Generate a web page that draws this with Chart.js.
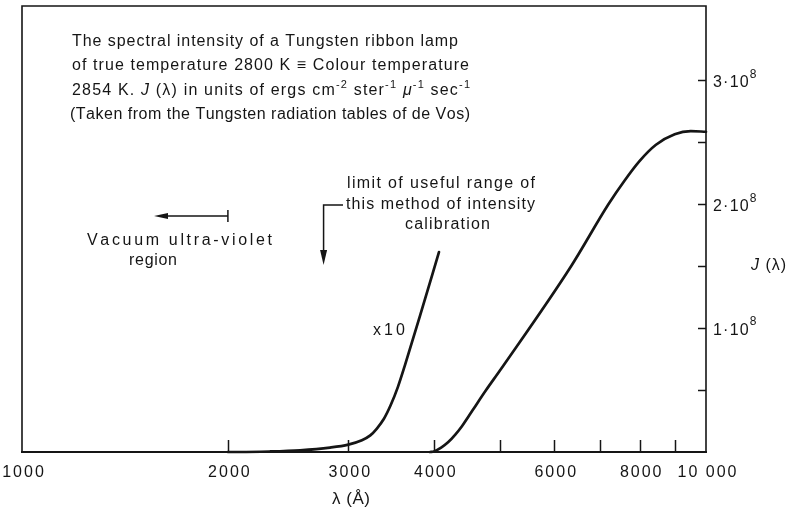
<!DOCTYPE html>
<html>
<head>
<meta charset="utf-8">
<script src="https://cdn.jsdelivr.net/npm/chart.js@4/dist/chart.umd.min.js"></script>
<style>
  html, body { margin: 0; padding: 0; background: #fff; }
  #wrap { width: 791px; height: 519px; position: relative; }
</style>
</head>
<body>
<div id="wrap"><canvas id="c" width="791" height="519"></canvas></div>
<script>
// Spectral intensity J(λ) of a tungsten ribbon lamp, 2800 K true temperature.
// Wavelengths in Å, intensities in ergs cm^-2 ster^-1 µ^-1 sec^-1.

// Short-wavelength branch (plotted magnified ×10)
const uvWavelengths = [2000, 2080, 2300, 2550, 2820, 3000, 3140, 3230, 3300, 3380,
                       3460, 3545, 3630, 3820, 4070];
const uvIntensity   = [0, 0, 4e4, 1.4e5, 3.6e5, 6.0e5, 9.5e5, 1.34e6, 1.875e6, 2.66e6,
                       3.79e6, 5.26e6, 7.01e6, 1.103e7, 1.613e7];
const UV_MAGNIFICATION = 10;

// Main branch
const visWavelengths = [3950, 4000, 4100, 4200, 4300, 4400, 4500, 4600, 4770, 5000,
                        6350, 7200, 7600, 8000, 8450, 9000, 9500, 10000];
const visIntensity   = [0, 4e5, 3.5e6, 8e6, 1.4e7, 2.1e7, 2.9e7, 3.7e7, 5.0e7, 6.6e7,
                        1.5e8, 2.0e8, 2.19e8, 2.35e8, 2.48e8, 2.565e8, 2.59e8, 2.585e8];

// Axes
const xTickValues = [1000, 2000, 3000, 4000, 5000, 6000, 7000, 8000, 9000, 10000];
const xTickLabels = { 1000: '1000', 2000: '2000', 3000: '3000', 4000: '4000',
                      6000: '6000', 8000: '8000', 10000: '10 000' };
const yTickValues = [0, 0.5e8, 1e8, 1.5e8, 2e8, 2.5e8, 3e8];
const yLabelled   = [1e8, 2e8, 3e8];
const yMantissa   = { 100000000: '1·10', 200000000: '2·10', 300000000: '3·10' };
const yExponent   = '8';

const FONT = '"Liberation Sans", "DejaVu Sans", sans-serif';
const INK = '#151515';

// Draws a run of characters; spread to a target width, or with a fixed gap.
function spacedText(ctx, segs, x, y, width, fixedGap) {
  const chars = [];
  segs.forEach(s => {
    const font = (s.italic ? 'italic ' : '') + (s.size || 16) + 'px ' + FONT;
    for (const ch of s.t) chars.push({ ch, font, dy: s.dy || 0 });
  });
  let natural = 0;
  chars.forEach(c => { ctx.font = c.font; c.w = ctx.measureText(c.ch).width; natural += c.w; });
  const gap = width != null && chars.length > 1
    ? (width - natural) / (chars.length - 1)
    : (fixedGap || 0);
  let cx = x;
  chars.forEach(c => {
    ctx.font = c.font;
    ctx.fillText(c.ch, cx, y + c.dy);
    cx += c.w + gap;
  });
}

const sup = (t, size, dy) => ({ t, size: size || 11, dy: dy || -6 });

const decorations = {
  id: 'decorations',
  beforeDraw(chart) {
    chart.ctx.letterSpacing = '2px';
  },
  afterDraw(chart) {
    const ctx = chart.ctx;
    const { left, right, top, bottom } = chart.chartArea;
    const xs = chart.scales.x, ys = chart.scales.y;
    ctx.save();
    ctx.letterSpacing = '0px';
    ctx.strokeStyle = INK;
    ctx.fillStyle = INK;
    ctx.lineCap = 'butt';

    // frame
    ctx.lineWidth = 1.6;
    ctx.beginPath();
    ctx.moveTo(left, bottom); ctx.lineTo(left, top); ctx.lineTo(right, top); ctx.lineTo(right, bottom);
    ctx.stroke();
    ctx.lineWidth = 2.2;
    ctx.beginPath(); ctx.moveTo(left - 1, bottom); ctx.lineTo(right + 1, bottom); ctx.stroke();

    // inward tick marks
    ctx.lineWidth = 1.5;
    xTickValues.slice(1, -1).forEach(v => {
      const px = Math.round(xs.getPixelForValue(v)) + 0.5;
      ctx.beginPath(); ctx.moveTo(px, bottom); ctx.lineTo(px, bottom - 12); ctx.stroke();
    });
    yTickValues.slice(1).forEach(v => {
      const py = Math.round(ys.getPixelForValue(v)) + 0.5;
      ctx.beginPath(); ctx.moveTo(right, py); ctx.lineTo(right - 8, py); ctx.stroke();
    });

    ctx.textBaseline = 'middle';
    ctx.textAlign = 'left';

    // right-hand intensity labels
    yLabelled.forEach(v => {
      const py = ys.getPixelForValue(v);
      spacedText(ctx, [{ t: yMantissa[v] }, sup(yExponent, 12, -8)], right + 7, py + 2, null, 1.2);
    });

    // description block
    spacedText(ctx, [{ t: 'The spectral intensity of a Tungsten ribbon lamp' }], 72, 42, 386);
    spacedText(ctx, [{ t: 'of true temperature 2800 K ≡ Colour temperature' }], 72, 66, 397);
    spacedText(ctx, [
      { t: '2854 K. ' }, { t: 'J', italic: true }, { t: ' (λ) in units of ergs cm' }, sup('-2'),
      { t: ' ster' }, sup('-1'), { t: ' ' }, { t: 'μ', italic: true }, sup('-1'),
      { t: ' sec' }, sup('-1')
    ], 72, 91, 398);
    spacedText(ctx, [{ t: '(Taken from the Tungsten radiation tables of de Vos)' }], 70, 115, 400);

    // vacuum ultra-violet marker, ending at 2000 Å
    const xv = xs.getPixelForValue(2000);
    ctx.lineWidth = 1.5;
    ctx.beginPath(); ctx.moveTo(xv, 210); ctx.lineTo(xv, 222); ctx.stroke();
    ctx.beginPath(); ctx.moveTo(xv, 216); ctx.lineTo(164, 216); ctx.stroke();
    ctx.beginPath(); ctx.moveTo(154, 216); ctx.lineTo(168, 213); ctx.lineTo(168, 219); ctx.closePath(); ctx.fill();
    spacedText(ctx, [{ t: 'Vacuum ultra-violet' }], 87, 241, 185);
    spacedText(ctx, [{ t: 'region' }], 129, 261, 48);

    // limit of useful range
    const xl = xs.getPixelForValue(2760);
    ctx.beginPath(); ctx.moveTo(343, 205); ctx.lineTo(xl, 205); ctx.lineTo(xl, 252); ctx.stroke();
    ctx.beginPath(); ctx.moveTo(xl, 265); ctx.lineTo(xl - 3.5, 250); ctx.lineTo(xl + 3.5, 250); ctx.closePath(); ctx.fill();
    spacedText(ctx, [{ t: 'limit of useful range of' }], 347, 184, 188);
    spacedText(ctx, [{ t: 'this method of intensity' }], 346, 205, 189);
    spacedText(ctx, [{ t: 'calibration' }], 405, 225, 85);

    // magnification label on the short-wavelength branch
    spacedText(ctx, [{ t: 'x10' }], 373, 331, 32);

    // axis titles
    spacedText(ctx, [{ t: 'J', italic: true }, { t: ' (λ)' }], 751, 266, 35);
    spacedText(ctx, [{ t: 'λ (Å)', size: 17 }], 332, 499, 38);

    ctx.restore();
  }
};

const lineStyle = {
  borderColor: INK,
  borderWidth: 2.7,
  pointRadius: 0,
  fill: false,
  cubicInterpolationMode: 'monotone',
  borderCapStyle: 'round',
  borderJoinStyle: 'round'
};

new Chart(document.getElementById('c'), {
  type: 'line',
  data: {
    datasets: [
      Object.assign({
        label: 'J(λ) ×10',
        data: uvWavelengths.map((w, i) => ({ x: w, y: uvIntensity[i] * UV_MAGNIFICATION }))
      }, lineStyle),
      Object.assign({
        label: 'J(λ)',
        data: visWavelengths.map((w, i) => ({ x: w, y: visIntensity[i] }))
      }, lineStyle)
    ]
  },
  options: {
    responsive: false,
    animation: false,
    devicePixelRatio: 1,
    clip: false,
    layout: { padding: { left: 22, top: 6, right: 0, bottom: 0 } },
    plugins: { legend: { display: false }, tooltip: { enabled: false } },
    scales: {
      x: {
        type: 'logarithmic',
        position: 'bottom',
        min: 1000,
        max: 10000,
        afterBuildTicks: s => { s.ticks = xTickValues.map(v => ({ value: v })); },
        afterFit: s => { s.height = 67; s.paddingLeft = 0; s.paddingRight = 0; },
        grid: { display: false, drawTicks: false },
        border: { display: false },
        ticks: {
          autoSkip: false, maxRotation: 0, minRotation: 0, padding: 11, labelOffset: 2,
          color: INK, font: { family: FONT, size: 16 },
          callback: v => xTickLabels[v] || ''
        }
      },
      y: {
        position: 'right',
        min: 0,
        max: 3.6e8,
        afterBuildTicks: s => { s.ticks = yTickValues.map(v => ({ value: v })); },
        afterFit: s => { s.width = 85; s.paddingTop = 0; s.paddingBottom = 0; },
        grid: { display: false, drawTicks: false },
        border: { display: false },
        ticks: { display: false }
      }
    }
  },
  plugins: [decorations]
});
</script>
</body>
</html>
